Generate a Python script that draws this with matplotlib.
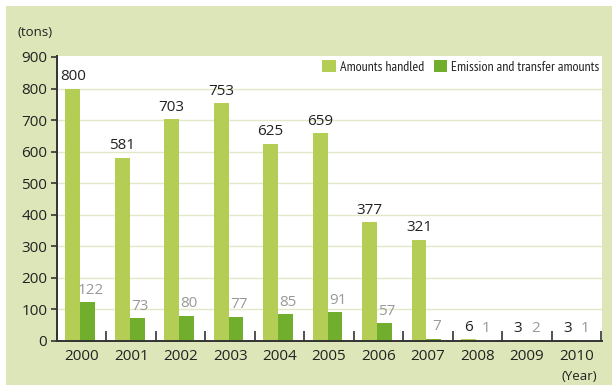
import matplotlib
matplotlib.use("Agg")
import matplotlib.pyplot as plt
from matplotlib.patches import Rectangle
import numpy as np

years = ["2000", "2001", "2002", "2003", "2004", "2005",
         "2006", "2007", "2008", "2009", "2010"]
handled = [800, 581, 703, 753, 625, 659, 377, 321, 6, 3, 3]
emission = [122, 73, 80, 77, 85, 91, 57, 7, 1, 2, 1]
yticks = [0, 100, 200, 300, 400, 500, 600, 700, 800, 900]

LIGHT = "#b3cd55"
DARK = "#72ae2e"
PANEL = "#dde6b9"
GRID = "#e2e9c6"
AXIS = "#333333"

plt.rcParams["font.family"] = ["Open Sans", "DejaVu Sans"]

W, H = 612, 385
fig = plt.figure(figsize=(W / 100, H / 100), dpi=100, facecolor="white")

# green panel behind the chart
bg = fig.add_axes([0, 0, 1, 1], zorder=-10)
bg.set_axis_off()
bg.set_xlim(0, W)
bg.set_ylim(H, 0)
bg.add_patch(Rectangle((6, 6), W - 6, H - 6, facecolor=PANEL,
                       edgecolor="none"))

ax = fig.add_axes([57 / W, 1 - 341 / H, (602 - 57) / W, (341 - 56) / H],
                  zorder=1)
ax.set_facecolor("white")

x = np.arange(len(years))
bw = 0.3
xl = x - 0.18
xd = x + 0.12
ax.bar(xl, handled, width=bw, color=LIGHT, zorder=3, label="Amounts handled")
ax.bar(xd, emission, width=bw, color=DARK, zorder=3,
       label="Emission and transfer amounts")

for xi, v in zip(xl, handled):
    ax.annotate(str(v), (xi, v), xytext=(0, 6), textcoords="offset points",
                ha="center", va="baseline", fontsize=11, color="#222222",
                zorder=4)
for xi, v in zip(xd, emission):
    ax.annotate(str(v), (xi, v), xytext=(2, 6), textcoords="offset points",
                ha="center", va="baseline", fontsize=11, color="#999999",
                zorder=4)

ax.set_ylim(0, 903)
ax.set_xlim(-0.5, 10.52)
ax.set_yticks(yticks)
ax.set_yticklabels([str(t) for t in yticks])
for t in yticks[1:-1]:
    ax.axhline(t, color=GRID, lw=1.0, zorder=1)

ax.set_xticks(x)
ax.set_xticklabels(years)
ax.set_xticks(np.arange(-0.5, len(years)), minor=True)
ax.tick_params(axis="x", which="major", length=0, pad=6, labelsize=11,
               labelcolor="#222222")
ax.tick_params(axis="x", which="minor", direction="in", length=7,
               width=1.2, color=AXIS)
ax.tick_params(axis="y", which="major", direction="out", length=4,
               width=1.2, color=AXIS, labelsize=11, labelcolor="#222222",
               pad=3)

for s in ("top", "right"):
    ax.spines[s].set_visible(False)
for s in ("left", "bottom"):
    ax.spines[s].set_color(AXIS)
    ax.spines[s].set_linewidth(1.4)
    ax.spines[s].set_zorder(5)

leg = ax.legend(loc="upper right", bbox_to_anchor=(0.995, 0.985), ncol=2,
                frameon=False, handlelength=0.95, handleheight=0.95,
                handletextpad=0.3, columnspacing=0.7, borderpad=0,
                borderaxespad=0,
                prop={"family": ["PT Sans Narrow", "DejaVu Sans"],
                      "weight": "normal", "size": 10})
for txt in leg.get_texts():
    txt.set_color("#222222")

fig.text(17 / W, 1 - 33 / H, "(tons)", fontsize=9.5, color="#222222",
         ha="left", va="center")
fig.text(597 / W, 1 - 376 / H, "(Year)", fontsize=9.5, color="#222222",
         ha="right", va="center")

fig.savefig("out.png", dpi=100, facecolor="white")
